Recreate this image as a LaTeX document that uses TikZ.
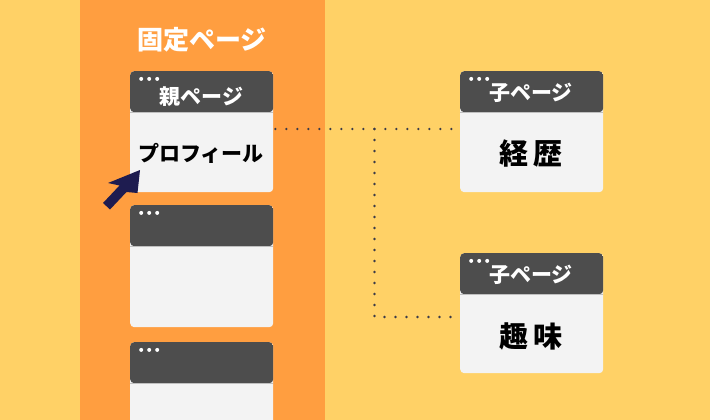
\documentclass[tikz,border=0pt]{standalone}
\usepackage{fontspec}
\newfontfamily\jp{Noto Sans CJK JP}
\definecolor{bgyellow}{HTML}{FFD166}
\definecolor{bgorange}{HTML}{FF9E40}
\definecolor{hdr}{HTML}{4D4D4D}
\definecolor{bodyc}{HTML}{F3F3F3}
\definecolor{navy}{HTML}{1E1C50}
\definecolor{dotc}{HTML}{3A3A48}
\tikzset{
  win/.style={rectangle, rounded corners=4pt, fill=bodyc, inner sep=0pt, anchor=north west,
    minimum width=143pt, minimum height=#1,
    path picture={\fill[hdr] (path picture bounding box.north west) rectangle ([yshift=-41pt]path picture bounding box.north east);
      \draw[gray!50, line width=0.8pt] ([yshift=-41.4pt]path picture bounding box.north west) -- ([yshift=-41.4pt]path picture bounding box.north east);
      \foreach \k in {0,1,2} \fill[white] ([xshift=11pt+\k*8pt, yshift=-7.7pt]path picture bounding box.north west) circle (2pt);}},
  hdrtext/.style={text=white, font=\jp\bfseries\fontsize{21}{21}\selectfont, inner sep=0pt},
  bodytext/.style={text=black, font=\jp\bfseries\fontsize{#1}{#1}\selectfont, inner sep=0pt},
  dotline/.style={dotc, line width=2.6pt, line cap=round, dash pattern=on 0pt off 11pt},
}
\begin{document}
\begin{tikzpicture}[x=1pt, y=-1pt]
\clip (0,0) rectangle (710,420);
\fill[bgyellow] (0,0) rectangle (710,420);
\fill[bgorange] (80,0) rectangle (325,420);
\node[text=white, font=\jp\bfseries\fontsize{26}{26}\selectfont, inner sep=0pt] (title) at (202,40) {固定ページ};
% windows
\node[win=121pt] (parent) at (130,71) {};
\node[win=122pt] (w2) at (130,205) {};
\node[win=122pt] (w3) at (130,342) {};
\node[win=121pt] (c1) at (460,71) {};
\node[win=120pt] (c2) at (460,253) {};
% labels
\node[hdrtext] (pl) at (201.5,97) {親ページ};
\node[bodytext=21] (pb) at (201,153) {プロフィール};
\node[hdrtext] (c1l) at (531,93) {子ページ};
\node[hdrtext] (c2l) at (531,275) {子ページ};
\node[bodytext=29] (c1b) at (531,153) {経\hspace{6pt}歴};
\node[bodytext=29] (c2b) at (531,336) {趣\hspace{6pt}味};
% connectors
\coordinate (j1) at (374.5,129);
\coordinate (j2) at (374.5,317);
\draw[dotline] (parent.east |- j1) ++(2,0) -- ([xshift=-8pt]c1.west |- j1);
\draw[dotline] (j1) -- (j2) -- ([xshift=-8pt]c2.west |- j2);
% cursor arrow
\fill[navy] (140,170) -- (108,183) -- (119.5,185.5) -- (103,203) -- (110,209.5) -- (126.5,192) -- (137.5,193) -- cycle;
\end{tikzpicture}
\end{document}
